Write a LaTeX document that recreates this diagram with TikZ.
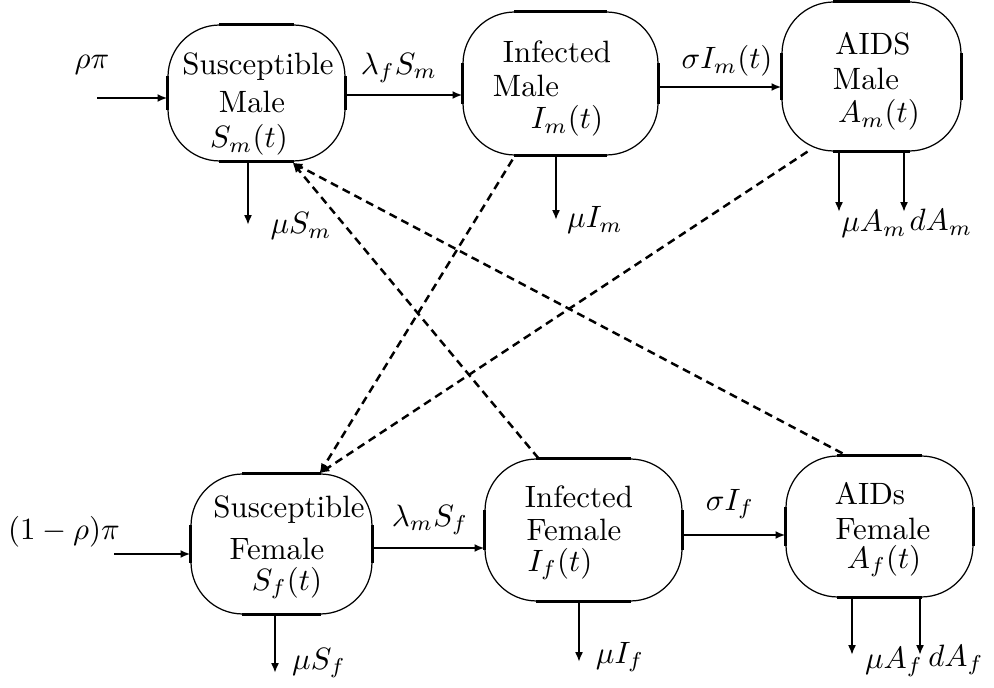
\documentclass[tikz,border=0pt]{standalone}
\usetikzlibrary{calc,arrows.meta}
\begin{document}
\begin{tikzpicture}[x=0.324pt,y=-0.324pt,
  box/.style={draw, line width=0.4pt, rounded corners=16.8pt, inner sep=0pt},
  boxedge/.style={line width=1pt},
  lbl/.style={inner sep=0pt},
  flow/.style={line width=0.7pt, -{Latex[length=3.2pt,width=2.6pt]}},
  infl/.style={line width=0.8pt, dash pattern=on 2.6pt off 1.7pt, -{Latex[length=3.2pt,width=2.6pt]}}]
\useasboundingbox (0,0) rectangle (994,688);

% boxes
\node[box, minimum width=57.35pt, minimum height=44.06pt] (smale) at (256.5,93) {};
\node[box, minimum width=63.18pt, minimum height=46.33pt] (imale) at (560.5,83.5) {};
\node[box, minimum width=58.00pt, minimum height=48.28pt] (amale) at (871.5,76.5) {};
\node[box, minimum width=58.64pt, minimum height=45.36pt] (sfem) at (281.5,544) {};
\node[box, minimum width=63.83pt, minimum height=46.01pt] (ifem) at (583.5,530) {};
\node[box, minimum width=60.59pt, minimum height=45.68pt] (afem) at (879.5,526.5) {};

\foreach \b in {smale,imale,amale,sfem,ifem,afem}{
  \draw[boxedge] ($(\b.north west)+(52,0)$) -- ($(\b.north east)+(-52,0)$);
  \draw[boxedge] ($(\b.south west)+(52,0)$) -- ($(\b.south east)+(-52,0)$);
  \draw[boxedge] ($(\b.north west)+(0,52)$) -- ($(\b.south west)+(0,-52)$);
  \draw[boxedge] ($(\b.north east)+(0,52)$) -- ($(\b.south east)+(0,-52)$);
}

% box texts
\node[lbl] (t1a) at (258,67) {Susceptible};
\node[lbl] (t1b) at (252,102) {Male};
\node[lbl] (t1c) at (249,140) {$S_m(t)$};
\node[lbl] (t2a) at (557,52) {Infected};
\node[lbl] (t2b) at (526,86) {Male};
\node[lbl] (t2c) at (567,121) {$I_m(t)$};
\node[lbl] (t3a) at (873,44) {AIDS};
\node[lbl] (t3b) at (866,79) {Male};
\node[lbl] (t3c) at (879,115) {$A_m(t)$};
\node[lbl] (t4a) at (289,510) {Susceptible};
\node[lbl] (t4b) at (277,549) {Female};
\node[lbl] (t4c) at (287,583) {$S_f(t)$};
\node[lbl] (t5a) at (579,497) {Infected};
\node[lbl] (t5b) at (574,530) {Female};
\node[lbl] (t5c) at (560,564) {$I_f(t)$};
\node[lbl] (t6a) at (870,494) {AIDs};
\node[lbl] (t6b) at (883,529) {Female};
\node[lbl] (t6c) at (884,561) {$A_f(t)$};

% inflows
\coordinate (in1) at (97,98);
\coordinate (in2) at (114,554);
\draw[flow] (in1) -- (in1 -| smale.west);
\draw[flow] (in2) -- (in2 -| sfem.west);
\node[lbl] (l1) at (92,65) {$\rho\pi$};
\node[lbl] (l2) at (64,532) {$(1-\rho)\pi$};

% horizontal transfers
\coordinate (h1) at ($(smale.east)+(0,2)$);
\coordinate (h2) at ($(imale.east)+(0,3.5)$);
\coordinate (h3) at ($(sfem.east)+(0,4)$);
\coordinate (h4) at ($(ifem.east)+(0,5)$);
\draw[flow] (h1) -- (h1 -| imale.west);
\draw[flow] (h2) -- (h2 -| amale.west);
\draw[flow] (h3) -- (h3 -| ifem.west);
\draw[flow] (h4) -- (h4 -| afem.west);
\node[lbl] (l3) at (399,68) {$\lambda_f S_m$};
\node[lbl] (l4) at (727,61) {$\sigma I_m(t)$};
\node[lbl] (l5) at (430,520) {$\lambda_m S_f$};
\node[lbl] (l6) at (730,504) {$\sigma I_f$};

% outflows
\coordinate (d1) at (248,225);
\coordinate (d2) at (556,220);
\coordinate (d3) at (839,212);
\coordinate (d4) at (904,212);
\coordinate (d5) at (275,673);
\coordinate (d6) at (579,662);
\coordinate (d7) at (852,655);
\coordinate (d8) at (920,655);
\draw[flow] (d1 |- smale.south) -- (d1);
\draw[flow] (d2 |- imale.south) -- (d2);
\draw[flow] (d3 |- amale.south) -- (d3);
\draw[flow] (d4 |- amale.south) -- (d4);
\draw[flow] (d5 |- sfem.south) -- (d5);
\draw[flow] (d6 |- ifem.south) -- (d6);
\draw[flow] (d7 |- afem.south) -- (d7);
\draw[flow] (d8 |- afem.south) -- (d8);
\node[lbl] (o1) at (301,226) {$\mu S_m$};
\node[lbl] (o2) at (595,220) {$\mu I_m$};
\node[lbl] (o3) at (874,224) {$\mu A_m$};
\node[lbl] (o4) at (941,222) {$dA_m$};
\node[lbl] (o5) at (319,663) {$\mu S_f$};
\node[lbl] (o6) at (620,657) {$\mu I_f$};
\node[lbl] (o7) at (894,662) {$\mu A_f$};
\node[lbl] (o8) at (956,660) {$dA_f$};

% infection interactions
\draw[infl] ($(ifem.north)+(-45,0)$) -- ($(smale.south)+(36,1)$);
\draw[infl] ($(afem.north)+(-37,-2)$) -- ($(smale.south)+(36,1)$);
\draw[infl] ($(imale.south)+(-48,4)$) -- ($(sfem.north)+(38,0)$);
\draw[infl] ($(amale.south)+(-64,0)$) -- ($(sfem.north)+(38,0)$);
\end{tikzpicture}
\end{document}
